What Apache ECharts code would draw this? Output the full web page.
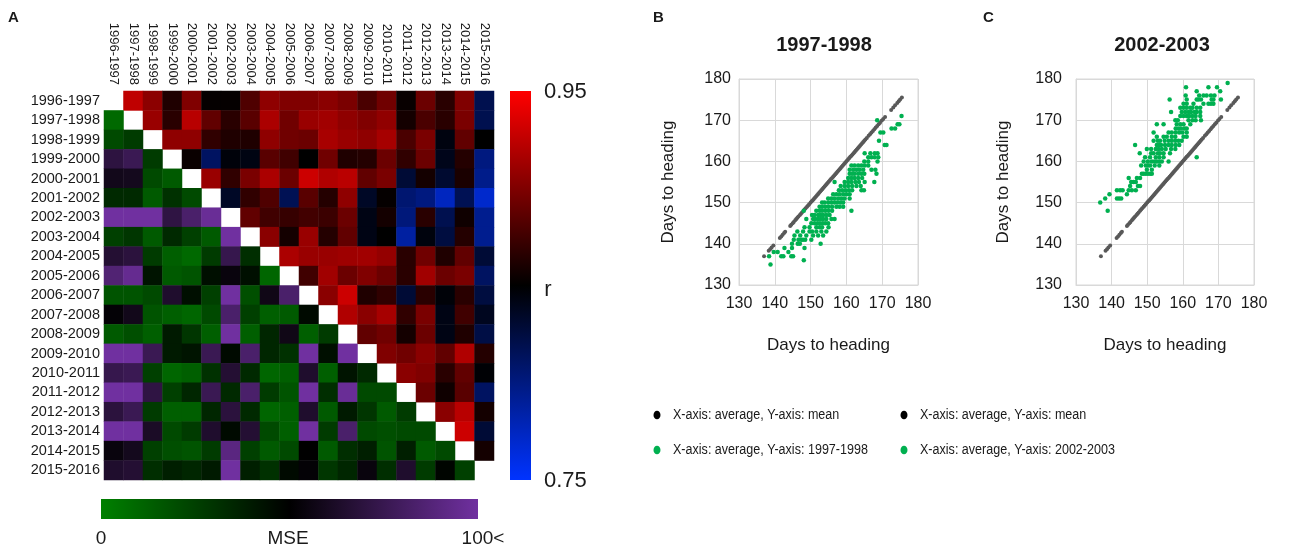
<!DOCTYPE html>
<html>
<head>
<meta charset="utf-8">
<script src="https://cdn.jsdelivr.net/npm/echarts@6.0.0/dist/echarts.min.js"></script>
<style>
  html, body { margin: 0; padding: 0; background: #ffffff; }
  #chart { width: 1314px; height: 551px; }
</style>
</head>
<body>
<div id="chart"></div>
<script>
// Growing seasons (rows and columns of the matrix)
const seasons = ['1996-1997','1997-1998','1998-1999','1999-2000','2000-2001','2001-2002','2002-2003',
  '2003-2004','2004-2005','2005-2006','2006-2007','2007-2008','2008-2009','2009-2010','2010-2011',
  '2011-2012','2012-2013','2013-2014','2014-2015','2015-2016'];

// Correlation r, upper triangle: rUpper[i][k] is row i, column i+1+k
const rUpper = [
  [0.925,0.905,0.862,0.900,0.852,0.852,0.881,0.906,0.900,0.900,0.904,0.898,0.879,0.894,0.853,0.892,0.866,0.900,0.819],
  [0.910,0.866,0.922,0.888,0.866,0.885,0.917,0.894,0.910,0.913,0.906,0.900,0.907,0.858,0.879,0.866,0.898,0.819],
  [0.906,0.906,0.869,0.862,0.862,0.906,0.894,0.892,0.916,0.910,0.906,0.915,0.879,0.898,0.844,0.888,0.850],
  [0.854,0.812,0.846,0.843,0.885,0.875,0.850,0.894,0.862,0.864,0.892,0.869,0.892,0.840,0.864,0.800],
  [0.910,0.869,0.898,0.917,0.892,0.930,0.919,0.923,0.888,0.898,0.829,0.858,0.831,0.860,0.796],
  [0.835,0.869,0.881,0.817,0.885,0.864,0.906,0.835,0.852,0.806,0.800,0.775,0.817,0.770],
  [0.888,0.875,0.871,0.876,0.873,0.892,0.842,0.858,0.802,0.866,0.819,0.856,0.794],
  [0.904,0.858,0.910,0.864,0.888,0.842,0.850,0.787,0.845,0.825,0.864,0.794],
  [0.917,0.910,0.910,0.912,0.913,0.908,0.866,0.894,0.862,0.888,0.829],
  [0.875,0.913,0.892,0.900,0.892,0.866,0.913,0.892,0.898,0.812],
  [0.904,0.930,0.862,0.869,0.829,0.866,0.847,0.866,0.825],
  [0.919,0.904,0.915,0.869,0.898,0.842,0.875,0.838],
  [0.888,0.894,0.858,0.892,0.842,0.862,0.823],
  [0.900,0.894,0.904,0.888,0.919,0.864],
  [0.904,0.900,0.866,0.888,0.848],
  [0.892,0.856,0.885,0.812],
  [0.904,0.922,0.858],
  [0.930,0.829],
  [0.858]
];

// MSE, lower triangle: mseLower[i] holds row i+1, columns 0..i (values above 100 shown as 100)
const mseLower = [
  [9],
  [21,27],
  [70,76,27],
  [58,59,21,15],
  [34,34,15,31,21],
  [100,100,100,71,83,97],
  [25,29,15,34,25,15,100],
  [66,69,27,13,9,27,74,32],
  [86,95,42,15,17,44,54,44,10],
  [17,17,21,64,44,25,100,19,57,83],
  [52,58,17,13,10,21,83,25,13,15,46],
  [15,19,13,40,29,13,100,13,35,57,13,27],
  [100,100,76,40,42,76,46,83,35,31,100,44,100],
  [74,76,25,10,13,31,66,34,10,13,64,13,42,34],
  [100,100,71,25,35,76,34,83,27,17,100,32,97,21,21],
  [69,76,27,13,13,35,69,34,10,13,64,15,40,29,15,27],
  [100,100,62,21,27,64,46,66,21,13,100,27,83,21,19,21,21],
  [54,59,25,19,17,27,90,25,15,21,50,15,32,38,17,38,15,21],
  [64,66,32,38,35,40,100,38,31,46,52,29,35,54,32,64,27,48,25]
];

const rRange = [0.75, 0.95];
const mseRange = [0, 100];
const mseBarLabels = ['0', 'MSE', '100<'];

// Average days to heading across seasons (the mean plotted against itself)
const meanDays = [137.0,138.3,138.7,139.1,139.6,141.4,141.8,142.2,142.6,142.9,144.3,144.6,145.0,145.3,
  145.7,146.0,146.3,146.6,147.0,147.3,147.6,148.0,148.3,148.6,149.0,149.3,149.6,150.0,150.3,150.6,
  150.9,151.2,151.5,151.8,152.1,152.4,152.7,153.0,153.3,153.6,153.9,154.2,154.5,154.8,155.1,155.4,
  155.7,156.0,156.3,156.6,156.9,157.2,157.5,157.8,158.1,158.4,158.7,159.0,159.3,159.6,159.9,160.2,
  160.5,160.8,161.1,161.4,161.7,162.0,162.3,162.6,162.9,163.2,163.5,163.8,164.1,164.4,164.7,165.0,
  165.3,165.7,166.2,166.6,167.0,167.4,167.8,168.2,168.6,169.0,169.4,169.9,170.3,170.8,172.5,173.1,
  173.6,174.2,174.6,175.0,175.5];

// [average days, days in 1997-1998]
const season9798 = [
  [175.4,171],[168.6,170],[174.3,169],[174.8,169],[172.6,168],[173.6,168],[169.5,167],[170.3,167],
  [169.1,165],[170.7,164],[171.2,164],
  [165.1,162],[166.7,162],[167.9,162],[168.7,162],
  [166.1,161],[167.0,161],[167.9,161],[168.9,161],
  [165.0,160],[166.1,160],[168.7,160],
  [161.4,159],[162.3,159],[163.3,159],[164.2,159],[165.1,159],[166.1,159],
  [160.9,158],[161.9,158],[162.8,158],[163.7,158],[164.7,158],[167.0,158],[168.1,158],
  [160.9,157],[161.6,157],[162.3,157],[163.3,157],[164.2,157],[165.0,157],[168.4,157],
  [160.5,156],[161.4,156],[162.3,156],[163.3,156],[164.4,156],
  [156.7,155],[159.5,155],[160.5,155],[161.4,155],[162.5,155],[163.5,155],[165.1,155],[167.8,155],
  [158.4,154],[159.5,154],[160.5,154],[161.6,154],[162.8,154],[164.0,154],
  [157.9,153],[158.8,153],[159.7,153],[160.7,153],[161.6,153],[164.2,153],[164.9,153],
  [156.3,152],[157.2,152],[158.1,152],[159.1,152],[160.0,152],[160.9,152],
  [154.9,151],[155.8,151],[156.7,151],[157.7,151],[158.6,151],[159.5,151],[160.9,151],
  [153.2,150],[153.9,150],[154.9,150],[155.8,150],[156.7,150],[157.5,150],[158.4,150],[159.1,150],
  [152.5,149],[153.2,149],[154.1,149],[155.0,149],[156.0,149],[157.2,149],[158.1,149],[159.1,149],
  [148.1,148],[151.6,148],[152.5,148],[153.2,148],[154.1,148],[155.0,148],[156.0,148],[161.4,148],
  [150.4,147],[151.1,147],[152.1,147],[152.8,147],[153.5,147],[154.4,147],[155.3,147],
  [148.8,146],[150.7,146],[151.3,146],[152.1,146],[152.8,146],[153.5,146],[154.4,146],[155.8,146],[156.7,146],
  [150.2,145],[151.1,145],[151.9,145],[152.6,145],[153.4,145],[154.1,145],[154.9,145],
  [148.3,144],[149.7,144],[151.6,144],[152.5,144],[153.2,144],[155.0,144],
  [146.3,143],[147.9,143],[149.7,143],[150.4,143],[151.6,143],[153.0,143],[154.4,143],
  [145.5,142],[147.1,142],[148.8,142],[150.7,142],[152.1,142],[153.5,142],
  [145.3,141],[146.6,141],[147.4,141],[147.9,141],[148.5,141],[150.2,141],
  [144.8,140],[146.4,140],[147.0,140],[152.8,140],
  [142.7,139],[144.8,139],[148.3,139],
  [139.7,138],[140.8,138],[143.8,138],
  [138.4,137],[141.8,137],[142.4,137],[144.6,137],[145.1,137],
  [148.1,136],[138.8,135]
];

// [average days, days in 2002-2003]
const season0203 = [
  [172.6,179],[160.9,178],[167.2,178],[169.6,178],[163.9,177],[170.5,177],
  [160.8,176],[164.6,176],[165.8,176],[166.7,176],[167.9,176],[168.9,176],
  [156.3,175],[161.1,175],[163.9,175],[164.4,175],[165.1,175],[168.1,175],[168.6,175],[170.7,175],
  [160.2,174],[161.1,174],[163.0,174],[165.8,174],[167.2,174],[167.9,174],[168.6,174],
  [159.3,173],[160.2,173],[161.1,173],[162.1,173],[162.7,173],[163.9,173],[164.9,173],
  [156.7,172],[159.7,172],[160.7,172],[161.6,172],[162.3,172],[163.3,172],[163.9,172],[164.9,172],
  [159.3,171],[160.2,171],[161.1,171],[161.8,171],[162.7,171],[163.6,171],[164.9,171],
  [157.9,170],[158.6,170],[161.6,170],[162.7,170],[163.6,170],[165.1,170],
  [152.7,169],[154.6,169],[158.3,169],[159.3,169],[160.2,169],[162.1,169],
  [158.0,168],[158.8,168],[159.5,168],[160.5,168],[161.1,168],
  [151.8,167],[156.0,167],[156.9,167],[158.0,167],[159.0,167],[159.9,167],[161.1,167],
  [152.7,166],[154.6,166],[155.5,166],[156.9,166],[157.9,166],[160.2,166],[161.1,166],
  [151.8,165],[153.0,165],[153.6,165],[154.9,165],[156.0,165],[156.9,165],[157.9,165],[158.8,165],[159.7,165],
  [146.6,164],[152.7,164],[153.4,164],[153.9,164],[155.0,164],[156.0,164],[156.9,164],[158.0,164],[159.0,164],
  [149.9,163],[151.1,163],[152.4,163],[153.2,163],[154.1,163],[155.2,163],[156.7,163],[157.9,163],
  [147.9,162],[151.1,162],[151.8,162],[153.0,162],[153.6,162],[154.6,162],[156.4,162],
  [149.4,161],[150.8,161],[152.4,161],[153.4,161],[154.6,161],[163.9,161],
  [149.0,160],[150.2,160],[151.3,160],[152.1,160],[152.7,160],[153.4,160],[154.1,160],[156.0,160],
  [148.3,159],[149.6,159],[150.2,159],[150.8,159],[152.1,159],[153.4,159],
  [149.9,158],[151.3,158],
  [148.5,157],[149.0,157],[149.6,157],[150.2,157],[150.8,157],[151.3,157],
  [144.8,156],[147.1,156],[148.0,156],
  [145.5,155],[146.2,155],[146.8,155],
  [145.2,154],[147.4,154],[148.0,154],
  [141.5,153],[142.4,153],[143.1,153],[144.8,153],[145.7,153],[146.8,153],
  [139.4,152],[144.3,152],
  [138.2,151],[141.5,151],[142.1,151],[142.7,151],
  [136.8,150],[138.9,148]
];

const FONT = "'Liberation Sans', Arial, Helvetica, sans-serif";
const TEXT = '#1a1a1a';
const GREEN = '#00b050';
const GREY = '#595959';
const MEAN_NAME = 'X-axis: average, Y-axis: mean';
const NAME_9798 = 'X-axis: average, Y-axis: 1997-1998';
const NAME_0203 = 'X-axis: average, Y-axis: 2002-2003';

// Heatmap cells: r above the diagonal, MSE below it
const rCells = [];
rUpper.forEach((row, i) => row.forEach((v, k) => rCells.push([i + 1 + k, i, v])));
const mseCells = [];
mseLower.forEach((row, i) => row.forEach((v, k) => mseCells.push([k, i + 1, Math.min(v, mseRange[1])])));

const rColors = ['#0033ff', '#000000', '#ff0000'];
const mseColors = ['#008000', '#000000', '#7030a0'];

function scatterAxis(gridIndex, nameGap, labelMargin) {
  return {
    type: 'value', gridIndex, min: 130, max: 180, interval: 10,
    name: 'Days to heading', nameLocation: 'middle', nameGap,
    nameTextStyle: { fontFamily: FONT, fontSize: 17, color: TEXT },
    axisLine: { show: true, lineStyle: { color: '#d9d9d9', width: 1 } },
    axisTick: { show: false },
    axisLabel: { fontFamily: FONT, fontSize: 16, color: TEXT, margin: labelMargin },
    splitLine: { show: true, lineStyle: { color: '#d9d9d9', width: 1 } }
  };
}

function textEl(text, x, y, size, opts) {
  opts = opts || {};
  const el = {
    type: 'text', x, y, silent: true,
    style: {
      text, fill: opts.fill || TEXT,
      font: (opts.weight || 'normal') + ' ' + size + 'px ' + FONT,
      align: opts.align || 'left', textAlign: opts.align || 'left',
      verticalAlign: 'middle', textVerticalAlign: 'middle'
    }
  };
  if (opts.scaleX) el.scaleX = opts.scaleX;
  return el;
}

// Legend rows for one panel: a dot and a condensed label
function legendBlock(x, y, entries) {
  const els = [];
  entries.forEach((e, i) => {
    const cy = y + i * 35;
    els.push({ type: 'ellipse', silent: true, shape: { cx: x, cy, rx: 3.5, ry: 4.3 }, style: { fill: e.color } });
    els.push(textEl(e.name, x + 16, cy, 15.5, { scaleX: 0.81 }));
  });
  return els;
}

const chart = echarts.init(document.getElementById('chart'), null, { renderer: 'canvas' });

chart.setOption({
  animation: false,
  backgroundColor: '#ffffff',
  grid: [
    { left: 104, top: 91, width: 390, height: 389, outerBoundsMode: 'none' },
    { left: 739, top: 79, width: 179, height: 206, show: true, borderColor: '#d9d9d9', borderWidth: 1, outerBoundsMode: 'none' },
    { left: 1076, top: 79, width: 178, height: 206, show: true, borderColor: '#d9d9d9', borderWidth: 1, outerBoundsMode: 'none' }
  ],
  xAxis: [
    {
      type: 'category', gridIndex: 0, data: seasons, position: 'top',
      axisLine: { show: false }, axisTick: { show: false }, splitLine: { show: false },
      axisLabel: { rotate: 90, interval: 0, fontFamily: FONT, fontSize: 13, color: TEXT, margin: 6 }
    },
    scatterAxis(1, 52, 11),
    scatterAxis(2, 52, 11)
  ],
  yAxis: [
    {
      type: 'category', gridIndex: 0, data: seasons, inverse: true,
      axisLine: { show: false }, axisTick: { show: false }, splitLine: { show: false },
      axisLabel: { interval: 0, fontFamily: FONT, fontSize: 14.5, color: TEXT, margin: 4 }
    },
    scatterAxis(1, 62, 8),
    scatterAxis(2, 64, 14)
  ],
  visualMap: [
    { type: 'continuous', show: false, seriesIndex: 0, min: rRange[0], max: rRange[1], inRange: { color: rColors } },
    { type: 'continuous', show: false, seriesIndex: 1, min: mseRange[0], max: mseRange[1], inRange: { color: mseColors } }
  ],
  series: [
    { type: 'heatmap', xAxisIndex: 0, yAxisIndex: 0, data: rCells, itemStyle: { borderWidth: 0 }, emphasis: { disabled: true } },
    { type: 'heatmap', xAxisIndex: 0, yAxisIndex: 0, data: mseCells, itemStyle: { borderWidth: 0 }, emphasis: { disabled: true } },
    { type: 'scatter', name: MEAN_NAME, xAxisIndex: 1, yAxisIndex: 1, symbolSize: 4,
      itemStyle: { color: GREY, opacity: 1 }, data: meanDays.map(v => [v, v]) },
    { type: 'scatter', name: NAME_9798, xAxisIndex: 1, yAxisIndex: 1, symbolSize: 4.5,
      itemStyle: { color: GREEN, opacity: 1 }, data: season9798 },
    { type: 'scatter', name: MEAN_NAME, xAxisIndex: 2, yAxisIndex: 2, symbolSize: 4,
      itemStyle: { color: GREY, opacity: 1 }, data: meanDays.map(v => [v, v]) },
    { type: 'scatter', name: NAME_0203, xAxisIndex: 2, yAxisIndex: 2, symbolSize: 4.5,
      itemStyle: { color: GREEN, opacity: 1 }, data: season0203 }
  ],
  graphic: [
    textEl('A', 8, 18, 15, { weight: 'bold' }),
    textEl('B', 653, 18, 15, { weight: 'bold' }),
    textEl('C', 983, 18, 15, { weight: 'bold' }),
    textEl('1997-1998', 824, 45, 20, { weight: 'bold', align: 'center' }),
    textEl('2002-2003', 1162, 45, 20, { weight: 'bold', align: 'center' }),
    {
      type: 'rect', silent: true, shape: { x: 510, y: 91, width: 21, height: 389 },
      style: { fill: new echarts.graphic.LinearGradient(0, 0, 0, 1, [
        { offset: 0, color: rColors[2] }, { offset: 0.5, color: rColors[1] }, { offset: 1, color: rColors[0] }]) }
    },
    textEl(rRange[1].toFixed(2), 544, 92, 22),
    textEl(rRange[0].toFixed(2), 544, 481, 22),
    textEl('r', 548, 290, 22, { align: 'center' }),
    {
      type: 'rect', silent: true, shape: { x: 101, y: 499, width: 377, height: 20 },
      style: { fill: new echarts.graphic.LinearGradient(0, 0, 1, 0, [
        { offset: 0, color: mseColors[0] }, { offset: 0.5, color: mseColors[1] }, { offset: 1, color: mseColors[2] }]) }
    },
    textEl(mseBarLabels[0], 101, 539, 19, { align: 'center' }),
    textEl(mseBarLabels[1], 288, 539, 19, { align: 'center' }),
    textEl(mseBarLabels[2], 483, 539, 19, { align: 'center' }),
    ...legendBlock(657, 415, [{ name: MEAN_NAME, color: '#000000' }, { name: NAME_9798, color: GREEN }]),
    ...legendBlock(904, 415, [{ name: MEAN_NAME, color: '#000000' }, { name: NAME_0203, color: GREEN }])
  ]
});
</script>
</body>
</html>
